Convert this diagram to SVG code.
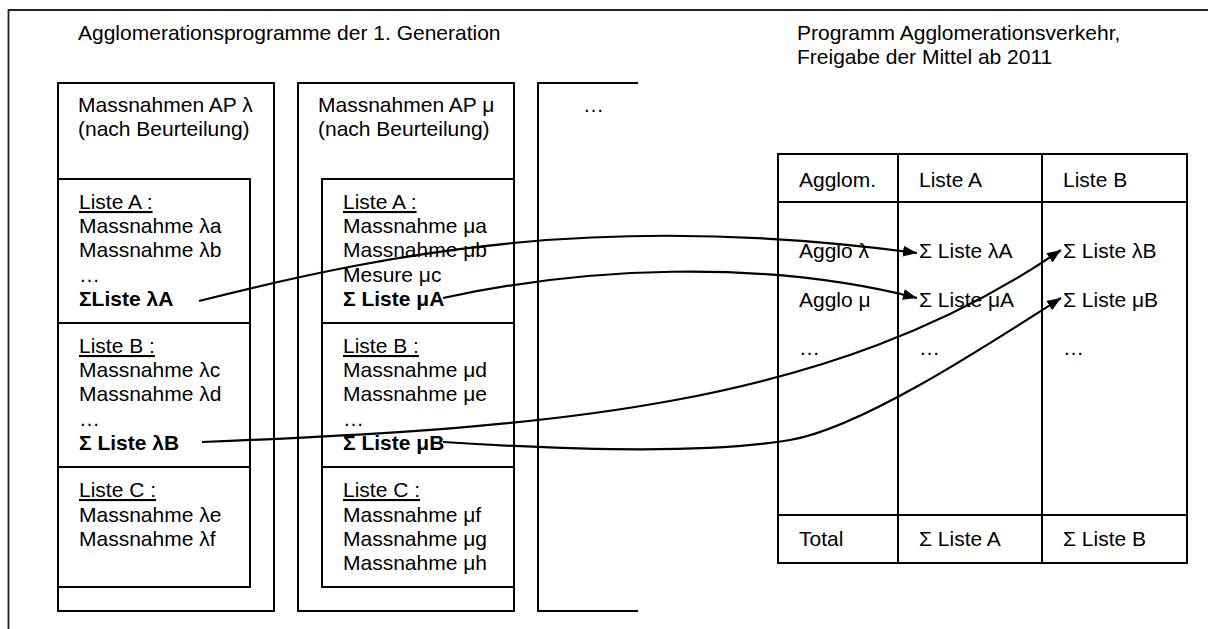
<svg xmlns="http://www.w3.org/2000/svg" width="1208" height="629" viewBox="0 0 1208 629">
<style>
text{font-family:"Liberation Sans",Arial,sans-serif;font-size:21px;fill:#000}
.b{font-weight:bold}
.u{text-decoration:underline}
.box{fill:none;stroke:#000;stroke-width:2}
.frame{fill:none;stroke:#222;stroke-width:1.8}
.con{fill:none;stroke:#000;stroke-width:2.2}
</style>
<defs>
<marker id="arr" markerUnits="userSpaceOnUse" markerWidth="15" markerHeight="12" refX="14" refY="5.5" orient="auto">
<path d="M0,0 L14,5.5 L0,11 z" fill="#000"/>
</marker>
</defs>
<rect width="1208" height="629" fill="#fff"/>
<g id="frame">
<path class="frame" d="M8.5,629 V10 H1208"/>
<text x="78" y="40">Agglomerationsprogramme der 1. Generation</text>
<text x="797" y="40">Programm Agglomerationsverkehr,</text>
<text x="797" y="64">Freigabe der Mittel ab 2011</text>
</g>
<g id="ap-lambda">
<rect class="box" x="58" y="83" width="216" height="528"/>
<text x="78" y="112">Massnahmen AP λ</text>
<text x="78" y="136">(nach Beurteilung)</text>
<rect class="box" x="58" y="179" width="192" height="144"/>
<rect class="box" x="58" y="323" width="192" height="144"/>
<rect class="box" x="58" y="467" width="192" height="120"/>
<text x="79" y="209" class="u">Liste A :</text>
<text x="79" y="233">Massnahme λa</text>
<text x="79" y="257">Massnahme λb</text>
<text x="79" y="282">…</text>
<text x="79" y="306" class="b">ΣListe λA</text>
<text x="79" y="353" class="u">Liste B :</text>
<text x="79" y="377">Massnahme λc</text>
<text x="79" y="401">Massnahme λd</text>
<text x="79" y="426">…</text>
<text x="79" y="450" class="b">Σ Liste λB</text>
<text x="79" y="497" class="u">Liste C :</text>
<text x="79" y="522">Massnahme λe</text>
<text x="79" y="546">Massnahme λf</text>
</g>
<g id="ap-mu">
<rect class="box" x="298" y="83" width="216" height="528"/>
<text x="318" y="112">Massnahmen AP μ</text>
<text x="318" y="136">(nach Beurteilung)</text>
<rect class="box" x="322" y="179" width="192" height="144"/>
<rect class="box" x="322" y="323" width="192" height="144"/>
<rect class="box" x="322" y="467" width="192" height="120"/>
<text x="343" y="209" class="u">Liste A :</text>
<text x="343" y="233">Massnahme μa</text>
<text x="343" y="257">Massnahme μb</text>
<text x="343" y="282">Mesure μc</text>
<text x="343" y="306" class="b">Σ Liste μA</text>
<text x="343" y="353" class="u">Liste B :</text>
<text x="343" y="377">Massnahme μd</text>
<text x="343" y="401">Massnahme μe</text>
<text x="343" y="426">…</text>
<text x="343" y="450" class="b">Σ Liste μB</text>
<text x="343" y="497" class="u">Liste C :</text>
<text x="343" y="522">Massnahme μf</text>
<text x="343" y="546">Massnahme μg</text>
<text x="343" y="570">Massnahme μh</text>
</g>
<g id="ap-more">
<path class="box" d="M638,83 H538 V611 H638"/>
<text x="583" y="112">…</text>
</g>
<g id="table">
<rect class="box" x="778" y="154" width="409" height="409"/>
<path class="box" d="M898,154 V563 M1042,154 V563 M778,202 H1187 M778,515 H1187"/>
<text x="799" y="187">Agglom.</text>
<text x="919" y="187">Liste A</text>
<text x="1063" y="187">Liste B</text>
<text x="799" y="258">Agglo λ</text>
<text x="919" y="258">Σ Liste λA</text>
<text x="1063" y="258">Σ Liste λB</text>
<text x="799" y="307">Agglo μ</text>
<text x="919" y="307">Σ Liste μA</text>
<text x="1063" y="307">Σ Liste μB</text>
<text x="799" y="355">…</text>
<text x="919" y="355">…</text>
<text x="1063" y="355">…</text>
<text x="799" y="546">Total</text>
<text x="919" y="546">Σ Liste A</text>
<text x="1063" y="546">Σ Liste B</text>
</g>
<g id="connectors">
<path class="con" marker-end="url(#arr)" d="M199,301 C400,250 610,212 917,253"/>
<path class="con" marker-end="url(#arr)" d="M443,298 C580,268 760,258 917,298"/>
<path class="con" marker-end="url(#arr)" d="M202,442 C550,428 830,408 1061,250"/>
<path class="con" marker-end="url(#arr)" d="M443,442 C600,452 720,452 790,440 S980,350 1061,298"/>
</g>
</svg>
